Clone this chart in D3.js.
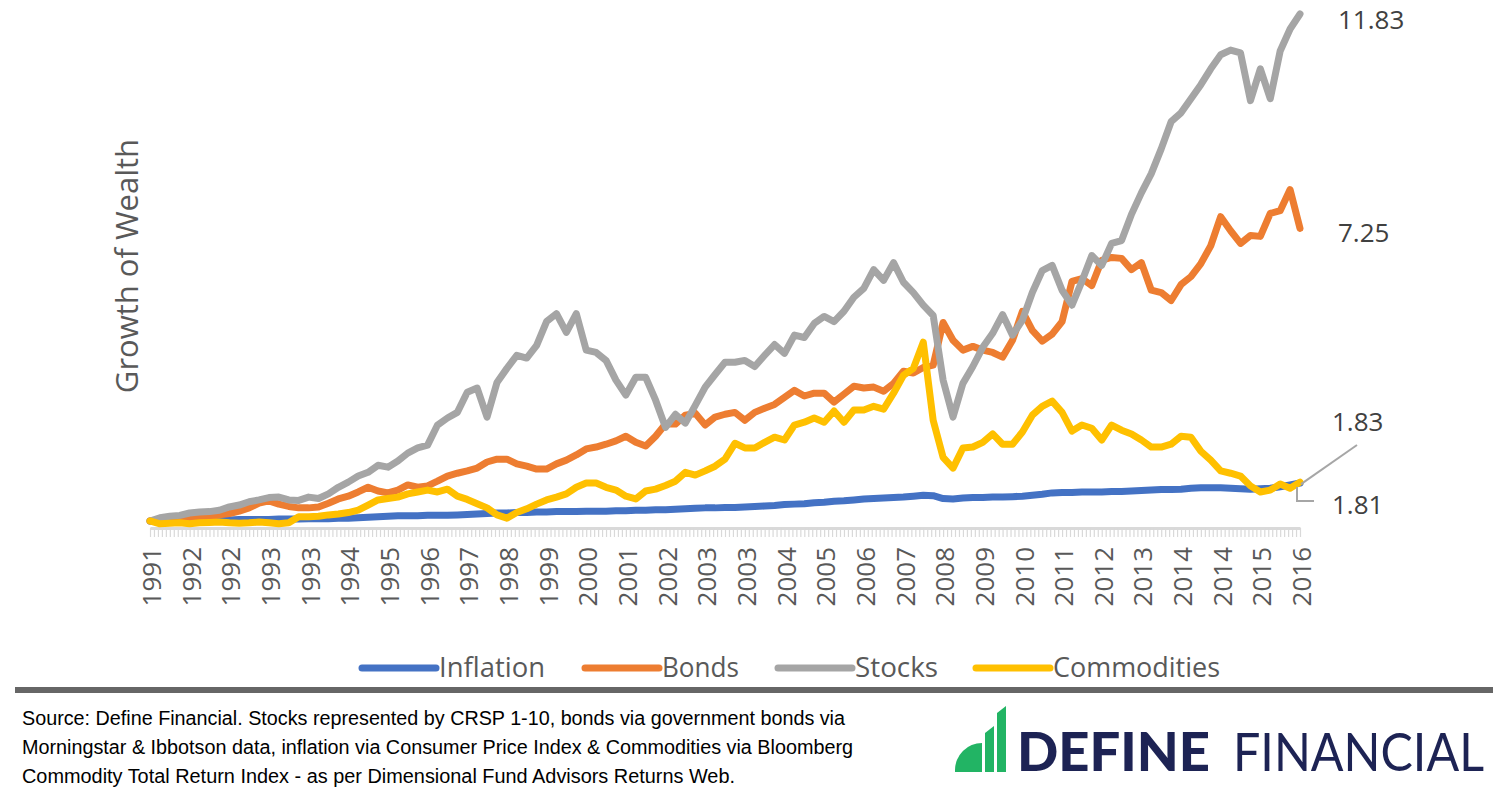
<!DOCTYPE html>
<html><head><meta charset="utf-8">
<script src="https://cdn.jsdelivr.net/npm/d3@7/dist/d3.min.js"></script>
<style>body{margin:0;background:#fff}svg{display:block}</style>
</head><body>
<svg id="chart" width="1510" height="788"></svg>
<script>
// months between successive samples (first sample = first month shown)
const monthStep = 2.5;
const labelStepMonths = 10;
const xLabels = ["1991","1992","1992","1993","1993","1994","1995","1996","1997","1998","1999","2000","2001","2002","2003","2003","2004","2005","2006","2007","2008","2009","2010","2011","2012","2013","2014","2014","2015","2016"];

const inflation = [1.00,1.00,1.01,1.01,1.01,1.02,1.02,1.02,1.02,1.03,
1.03,1.03,1.03,1.04,1.04,1.04,1.05,1.05,1.05,1.06,
1.06,1.07,1.08,1.09,1.10,1.11,1.11,1.11,1.12,1.12,
1.12,1.13,1.14,1.15,1.16,1.17,1.17,1.18,1.18,1.19,
1.19,1.20,1.20,1.20,1.21,1.21,1.21,1.22,1.22,1.23,
1.23,1.24,1.24,1.25,1.26,1.27,1.28,1.28,1.29,1.29,
1.30,1.31,1.32,1.33,1.35,1.36,1.37,1.39,1.40,1.42,
1.43,1.45,1.47,1.48,1.49,1.50,1.51,1.53,1.55,1.54,
1.48,1.47,1.49,1.50,1.50,1.51,1.51,1.52,1.53,1.55,
1.57,1.60,1.61,1.61,1.62,1.62,1.62,1.63,1.63,1.64,
1.65,1.66,1.67,1.67,1.68,1.70,1.71,1.71,1.71,1.70,
1.69,1.68,1.69,1.70,1.73,1.77,1.81];

const bonds = [1.00,1.02,1.02,1.04,1.06,1.07,1.09,1.13,1.16,1.21,
1.28,1.38,1.43,1.36,1.31,1.28,1.28,1.30,1.38,1.47,
1.53,1.62,1.72,1.64,1.60,1.66,1.77,1.72,1.75,1.85,
1.96,2.02,2.07,2.13,2.26,2.32,2.32,2.22,2.17,2.11,
2.11,2.22,2.30,2.41,2.54,2.58,2.64,2.71,2.81,2.68,
2.60,2.81,3.07,3.07,3.26,3.30,3.05,3.22,3.28,3.32,
3.15,3.32,3.41,3.49,3.64,3.79,3.67,3.73,3.73,3.54,
3.71,3.88,3.84,3.86,3.77,3.94,4.20,4.16,4.28,4.33,
5.24,4.86,4.65,4.73,4.65,4.60,4.50,4.86,5.48,5.07,
4.84,4.99,5.26,6.12,6.18,6.03,6.57,6.63,6.61,6.37,
6.52,5.93,5.88,5.71,6.05,6.22,6.50,6.88,7.50,7.20,
6.93,7.10,7.08,7.57,7.63,8.08,7.25];

const stocks = [1.00,1.07,1.10,1.12,1.17,1.19,1.20,1.23,1.30,1.34,
1.41,1.45,1.50,1.51,1.45,1.44,1.51,1.48,1.58,1.72,
1.83,1.96,2.04,2.19,2.15,2.28,2.45,2.56,2.62,3.05,
3.20,3.32,3.75,3.84,3.22,3.96,4.26,4.54,4.48,4.75,
5.26,5.43,5.03,5.43,4.65,4.60,4.43,4.01,3.69,4.07,
4.07,3.58,3.00,3.28,3.09,3.47,3.86,4.13,4.39,4.39,
4.43,4.30,4.54,4.77,4.58,4.97,4.92,5.22,5.37,5.26,
5.48,5.78,5.97,6.37,6.14,6.52,6.10,5.88,5.61,5.39,
4.01,3.22,3.94,4.30,4.71,5.01,5.41,4.97,5.29,5.88,
6.35,6.46,5.93,5.61,6.12,6.67,6.46,6.93,6.99,7.55,
8.01,8.42,8.95,9.53,9.72,10.02,10.32,10.66,10.96,11.06,
11.00,9.98,10.66,10.02,11.04,11.51,11.83];

const commodities = [1.00,0.94,0.95,0.96,0.94,0.96,0.97,0.98,0.96,0.95,
0.96,0.98,0.96,0.94,0.96,1.09,1.09,1.10,1.13,1.15,
1.18,1.23,1.34,1.45,1.48,1.51,1.58,1.62,1.66,1.62,
1.68,1.53,1.46,1.37,1.28,1.13,1.06,1.18,1.26,1.36,
1.45,1.51,1.58,1.72,1.81,1.81,1.72,1.66,1.53,1.47,
1.64,1.68,1.76,1.85,2.04,1.98,2.07,2.17,2.32,2.66,
2.56,2.56,2.68,2.79,2.73,3.05,3.11,3.20,3.11,3.35,
3.11,3.37,3.37,3.45,3.39,3.73,4.11,4.26,4.82,3.15,
2.36,2.13,2.56,2.58,2.68,2.86,2.64,2.64,2.90,3.26,
3.45,3.56,3.32,2.92,3.05,2.98,2.73,3.05,2.94,2.86,
2.73,2.58,2.58,2.64,2.81,2.79,2.49,2.30,2.07,2.02,
1.96,1.75,1.62,1.66,1.79,1.70,1.83];

const seriesNames = ["Inflation","Bonds","Stocks","Commodities"];
const seriesValues = [inflation, bonds, stocks, commodities];
const seriesColors = ["#4472C4","#ED7D31","#A5A5A5","#FFC000"];
const endLabels = ["11.83","7.25","1.83","1.81"];
const yTitle = "Growth of Wealth";
const sourceLines = [
  "Source: Define Financial. Stocks represented by CRSP 1-10, bonds via government bonds via",
  "Morningstar & Ibbotson data, inflation via Consumer Price Index & Commodities via Bloomberg",
  "Commodity Total Return Index - as per Dimensional Fund Advisors Returns Web."
];

const svg = d3.select("#chart");
const totalMonths = (inflation.length - 1) * monthStep;
const x = d3.scaleLinear().domain([0, totalMonths]).range([150, 1300]);
const y = d3.scaleLinear().domain([0.85, 12.13]).range([528, 0]);

// x axis with monthly ticks
const axisG = svg.append("g").attr("transform", "translate(0,528)")
  .call(d3.axisBottom(x).tickValues(d3.range(0, totalMonths + 1, 1)).tickSize(9).tickSizeOuter(0).tickFormat(""));
axisG.select(".domain").attr("stroke", "#d9d9d9").attr("stroke-width", 3);
axisG.selectAll(".tick line").attr("stroke", "#d9d9d9").attr("stroke-width", 1.2);

// x labels
svg.append("g").selectAll("text").data(xLabels).join("text")
  .attr("transform", (d, i) => `translate(${x(i * labelStepMonths) + 2},547) rotate(-90)`)
  .attr("text-anchor", "end").attr("dy", "0.35em")
  .style("font-family", "'Open Sans', sans-serif").style("font-size", "26px").attr("fill", "#595959")
  .text(d => d);

// y title
svg.append("text").attr("transform", "translate(127,266) rotate(-90)")
  .attr("text-anchor", "middle").attr("dy", "0.35em")
  .style("font-family", "'Open Sans', sans-serif").style("font-size", "31px").attr("fill", "#595959")
  .text(yTitle);

// series lines
const line = d3.line().x((d, i) => x(i * monthStep)).y(d => y(d));
svg.append("g").selectAll("path").data(seriesValues).join("path")
  .attr("d", line).attr("fill", "none")
  .attr("stroke", (d, i) => seriesColors[i]).attr("stroke-width", 7)
  .attr("stroke-linejoin", "round").attr("stroke-linecap", "round");

// end labels
const lblFont = "'Open Sans', sans-serif";
const endPos = [[1338, 20], [1338, 233], [1332, 422], [1332, 505]];
svg.append("g").selectAll("text").data(endLabels).join("text")
  .attr("x", (d, i) => endPos[i][0]).attr("y", (d, i) => endPos[i][1]).attr("dy", "0.35em")
  .style("font-family", lblFont).style("font-size", "26px").attr("fill", "#404040")
  .text(d => d);
// leader lines
const lastX = x(totalMonths);
svg.append("line").attr("x1", lastX + 1).attr("y1", y(commodities[commodities.length - 1]) + 2)
  .attr("x2", 1357).attr("y2", 445).attr("stroke", "#a6a6a6").attr("stroke-width", 2);
svg.append("polyline").attr("points", `${lastX - 3},${y(inflation[inflation.length - 1]) + 4} ${lastX - 3},501 ${lastX + 14},501`)
  .attr("fill", "none").attr("stroke", "#a6a6a6").attr("stroke-width", 2);

// legend
const legX = [362, 585, 778, 976];
const legW = [106, 77, 83, 167];
const leg = svg.append("g").selectAll("g").data(seriesNames).join("g");
leg.append("line").attr("x1", (d, i) => legX[i]).attr("x2", (d, i) => legX[i] + 74)
  .attr("y1", 668).attr("y2", 668).attr("stroke", (d, i) => seriesColors[i])
  .attr("stroke-width", 7).attr("stroke-linecap", "round");
leg.append("text").attr("x", (d, i) => legX[i] + 77).attr("y", 668).attr("dy", "0.35em")
  .attr("textLength", (d, i) => legW[i]).attr("lengthAdjust", "spacingAndGlyphs")
  .style("font-family", "'Open Sans', sans-serif").style("font-size", "27px").attr("fill", "#595959")
  .text(d => d);

// separator
svg.append("rect").attr("x", 15).attr("y", 687).attr("width", 1478).attr("height", 6).attr("fill", "#666666");

// source text
const srcW = [823, 831, 713];
svg.append("g").selectAll("text").data(sourceLines).join("text")
  .attr("x", 22).attr("y", (d, i) => 725 + i * 29)
  .attr("textLength", (d, i) => srcW[i]).attr("lengthAdjust", "spacingAndGlyphs")
  .style("font-family", "'Liberation Sans Narrow', 'Liberation Sans', Arial, sans-serif").style("font-size", "20px").attr("fill", "#000")
  .text(d => d);

// logo
const logo = svg.append("g");
logo.append("path").attr("d", "M955,772 L955,770 A27,27 0 0 1 982,743 L982,772 Z").attr("fill", "#22b464");
logo.append("path").attr("d", "M985,772 L985,733 L994,726 L994,772 Z").attr("fill", "#22b464");
logo.append("path").attr("d", "M997,772 L997,713 L1006,706 L1006,772 Z").attr("fill", "#22b464");
logo.append("text").attr("x", 1017).attr("y", 771).attr("textLength", 193).attr("lengthAdjust", "spacingAndGlyphs")
  .style("font-family", "Lato, 'Open Sans', sans-serif").style("font-weight", 900).style("font-size", "53px").attr("fill", "#1d2354")
  .text("DEFINE");
logo.append("text").attr("x", 1233).attr("y", 771).attr("textLength", 251).attr("lengthAdjust", "spacingAndGlyphs")
  .style("font-family", "Lato, 'Open Sans', sans-serif").style("font-weight", 400).style("font-size", "53px").attr("fill", "#1d2354")
  .text("FINANCIAL");
</script>
</body></html>
